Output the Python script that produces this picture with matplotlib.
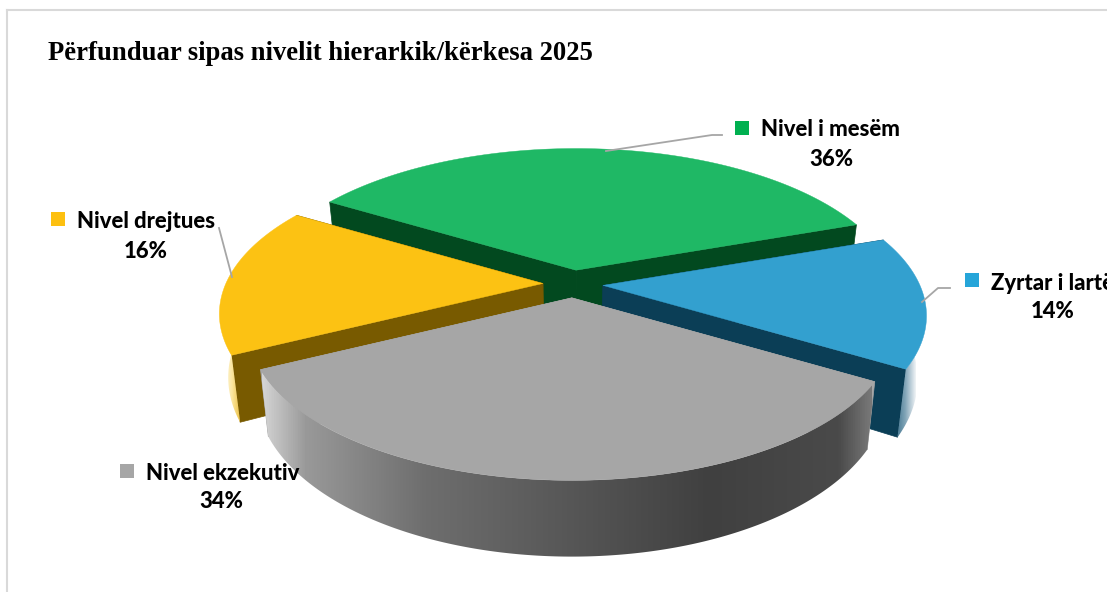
import numpy as np
import matplotlib
matplotlib.use('Agg')
import matplotlib.pyplot as plt
from matplotlib.colors import LinearSegmentedColormap
from matplotlib.patches import Polygon, Rectangle

# Dane
emra = ['Nivel i mesëm', 'Zyrtar i lartë', 'Nivel ekzekutiv', 'Nivel drejtues']
perqindje = [36, 14, 34, 16]
titulli = 'Përfunduar sipas nivelit hierarkik/kërkesa 2025'

# Ngjyrat
ngjyra_lart = ['#1fb865', '#33a0cf', '#a6a6a6', '#fcc213']
ngjyra_brinje = ['#02491f', '#0b3e56', '#a6a6a6', '#785a00']
ngjyra_legjende = ['#00b050', '#26a5d9', '#a6a6a6', '#fdc010']
# gradienti i murit te jashtem, sipas x ne ekran
gradient = [
    [(300, '#1fb865'), (800, '#1fb865')],
    [(893, '#2c6683'), (905, '#7fa3b6'), (916, '#f2f5f7')],
    [(262, '#d4d4d4'), (305, '#999999'), (425, '#6e6e6e'), (710, '#404040'), (840, '#4a4a4a'), (872, '#787878')],
    [(224, '#fff8e0'), (232, '#fbe6a0'), (243, '#e9b728')],
]
# renditja e vizatimit, nga mbrapa perpara
renditja = [0, 1, 3, 2]

# Gjeometria e pites 3D (piksel)
cx, cy = 573, 284
a, b, k = 317, 146, 0.2
shmangia = 0.095
thellesia = 61
ngushtimi = 0.975
kendi_fillim = 149


def projekto(teta, r=1.0):
    u = r * np.cos(teta)
    v = -r * np.sin(teta)
    s = 1 / (1 - k * v)
    return a * u * s, b * v * s, s


def poshte(x, y, s):
    return cx + (x - cx) * ngushtimi, y + thellesia * s


fig = plt.figure(figsize=(11.07, 5.92), dpi=100)
ax = fig.add_axes([0, 0, 1, 1])
ax.axis('off')

# Korniza
ax.plot([7, 7], [592, 10], color='#d9d9d9', lw=1.5, zorder=1)
ax.plot([7, 1107], [10, 10], color='#d9d9d9', lw=1.5, zorder=1)

kufijte = kendi_fillim - np.cumsum([0] + perqindje) * 3.6
z = 2
for i in renditja:
    t0, t1 = np.radians(kufijte[i]), np.radians(kufijte[i + 1])
    mes = (t0 + t1) / 2
    ox = cx + a * shmangia * np.cos(mes)
    oy = cy - b * shmangia * np.sin(mes)

    # brinjet radiale
    for t in (t0, t1):
        x, y, s = projekto(t)
        x, y = x + ox, y + oy
        xb, yb = poshte(x, y, s)
        xq, yq = poshte(ox, oy, 1.0)
        ax.add_patch(Polygon([(ox, oy), (x, y), (xb, yb), (xq, yq)], closed=True,
                             fc=ngjyra_brinje[i], ec=ngjyra_brinje[i], lw=0.5, zorder=z))
    z += 1

    # muri i jashtem me gradient, vetem pjesa e dukshme
    kende = np.linspace(t0, t1, 240)
    px, py, ps = projekto(kende)
    px, py = px + ox, py + oy
    bx, by = poshte(px, py, ps)
    dukshme = -np.sin(kende) >= -0.02
    if dukshme.any():
        stops = gradient[i]
        x_min, x_max = stops[0][0], stops[-1][0]
        cmap = LinearSegmentedColormap.from_list(
            'm', [((x - x_min) / (x_max - x_min), c) for x, c in stops])
        kontur = list(zip(px[dukshme], py[dukshme])) + list(zip(bx[dukshme][::-1], by[dukshme][::-1]))
        forma = Polygon(kontur, closed=True, transform=ax.transData, fc='none', ec='none')
        ax.add_patch(forma)
        im = ax.imshow(np.linspace(0, 1, 512)[None, :], cmap=cmap, vmin=0, vmax=1, aspect='auto',
                       extent=(x_min, x_max, 592, 0), zorder=z, interpolation='bilinear')
        im.set_clip_path(forma)
    z += 1

    # siperfaqja
    pika = [(ox, oy)] + list(zip(px, py))
    ax.add_patch(Polygon(pika, closed=True, fc=ngjyra_lart[i], ec=ngjyra_lart[i], lw=0.3, zorder=z))
    z += 1

# Vijat udheheqese
vijat = [
    [(606, 151), (712, 135), (722, 135)],
    [(922, 302), (938, 288), (950, 288)],
    [(219, 228), (232, 277)],
]
for v in vijat:
    ax.plot(*zip(*v), color='#a6a6a6', lw=1.3, zorder=z)
z += 1

# Etiketat
pozicion_emer = [(761, 130), (991, 283), (146, 473), (77, 222)]
pozicion_perq = [(831, 159.5), (1053, 312), (221, 502), (146, 252)]
pozicion_kuti = [(735, 121), (965, 273), (120, 464), (51, 212)]
for i, emer in enumerate(emra):
    ax.add_patch(Rectangle(pozicion_kuti[i], 14, 14, fc=ngjyra_legjende[i], ec='none', zorder=z))
    ax.text(*pozicion_emer[i], emer, family='Lato', weight='black', fontsize=15.9,
            ha='left', va='center', color='black', zorder=z + 1)
    ax.text(*pozicion_perq[i], f'{perqindje[i]}%', family='Lato', weight='black', fontsize=15.9,
            ha='center', va='center', color='black', zorder=z + 1)

ax.text(48, 53, titulli, family='Liberation Serif', weight='bold', fontsize=19.2,
        ha='left', va='center', color='black', zorder=z + 1)

ax.set_xlim(0, 1107)
ax.set_ylim(592, 0)
fig.savefig('out.png', dpi=100)
